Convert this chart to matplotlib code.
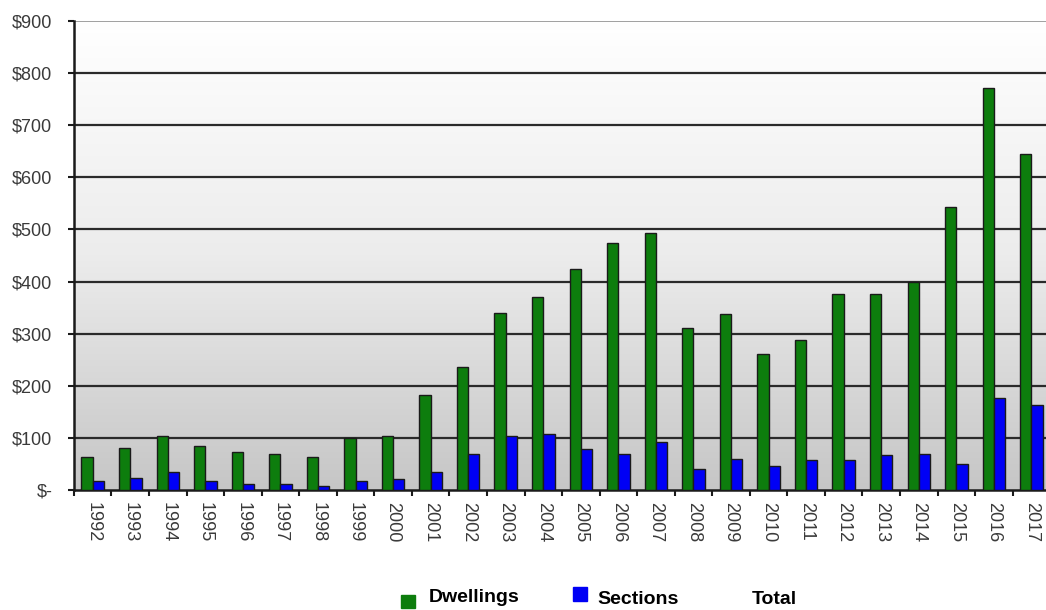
import numpy as np
import matplotlib.pyplot as plt
from matplotlib.patches import Rectangle
from matplotlib.ticker import FuncFormatter

plt.rcParams['font.family'] = ['Liberation Sans', 'DejaVu Sans']

years = [str(y) for y in range(1992, 2018)]
dwellings = [63, 80, 104, 84, 73, 70, 63, 100, 104, 183, 237, 340, 370, 424,
             474, 494, 311, 337, 261, 287, 377, 377, 400, 543, 771, 645]
sections = [17, 23, 34, 17, 11, 11, 7, 17, 21, 34, 70, 104, 107, 78,
            70, 93, 40, 60, 46, 57, 57, 67, 70, 50, 177, 163]

GREEN = "#0d7d0d"
BLUE = "#0000f5"

fig = plt.figure(figsize=(10.46, 6.10), dpi=100)
ax = fig.add_axes([0.0707, 0.1967, 0.9333, 0.7689])

# grey gradient background, white at top
grad = np.linspace(0, 1, 256).reshape(-1, 1)
ax.imshow(grad, extent=[0, 1, 0, 1], transform=ax.transAxes, aspect="auto",
          cmap=plt.matplotlib.colors.LinearSegmentedColormap.from_list(
              "bg", ["#c6c6c6", "#ececec", "#ffffff"]),
          origin="lower", zorder=0)

x = np.arange(len(years))
w = 0.3
ax.bar(x - w / 2, dwellings, w, color=GREEN, edgecolor="#1a1a1a", lw=1.0, zorder=3)
ax.bar(x + w / 2, sections, w, color=BLUE, edgecolor="#1a1a1a", lw=1.0, zorder=3)

ax.set_xlim(-0.5, len(years) - 0.5)
ax.set_ylim(0, 900)
ax.set_yticks(range(0, 1000, 100))
ax.yaxis.set_major_formatter(FuncFormatter(lambda v, p: "$-" if v == 0 else f"${int(v)}"))
for v in range(100, 900, 100):
    ax.axhline(v, color="#2a2a2a", lw=1.6, zorder=1)
ax.axhline(900, color="#a0a0a0", lw=1.4, zorder=1)

ax.set_xticks(x)
ax.set_xticklabels(years, rotation=270)
ax.set_xticks(np.arange(-0.5, len(years), 1), minor=True)
ax.tick_params(axis="x", which="major", length=0, pad=8.5, labelsize=13, labelcolor="#3a3a3a")
ax.tick_params(axis="x", which="minor", length=4, width=1.5, direction="out", color="#1a1a1a")
ax.tick_params(axis="y", length=4.5, width=1.5, color="#1a1a1a", labelsize=13,
               labelcolor="#3a3a3a", pad=11)

for s in ["top", "right"]:
    ax.spines[s].set_visible(False)
ax.spines["left"].set_linewidth(1.8)
ax.spines["left"].set_color("#1a1a1a")
ax.spines["bottom"].set_linewidth(1.8)
ax.spines["bottom"].set_color("#1a1a1a")

# legend along the bottom
W, H = 1046.0, 610.0
fig.add_artist(Rectangle((401 / W, 1 - 608 / H), 14 / W, 13 / H, color=GREEN,
                         transform=fig.transFigure))
fig.add_artist(Rectangle((573 / W, 1 - 601 / H), 14 / W, 14 / H, color=BLUE,
                         transform=fig.transFigure))
fig.text(429 / W, 1 - 597 / H, "Dwellings", fontsize=14, fontweight="bold", va="center")
fig.text(597 / W, 1 - 599 / H, "Sections", fontsize=14, fontweight="bold", va="center")
fig.text(752 / W, 1 - 599 / H, "Total", fontsize=14, fontweight="bold", va="center")

fig.savefig("out.png", dpi=100)
